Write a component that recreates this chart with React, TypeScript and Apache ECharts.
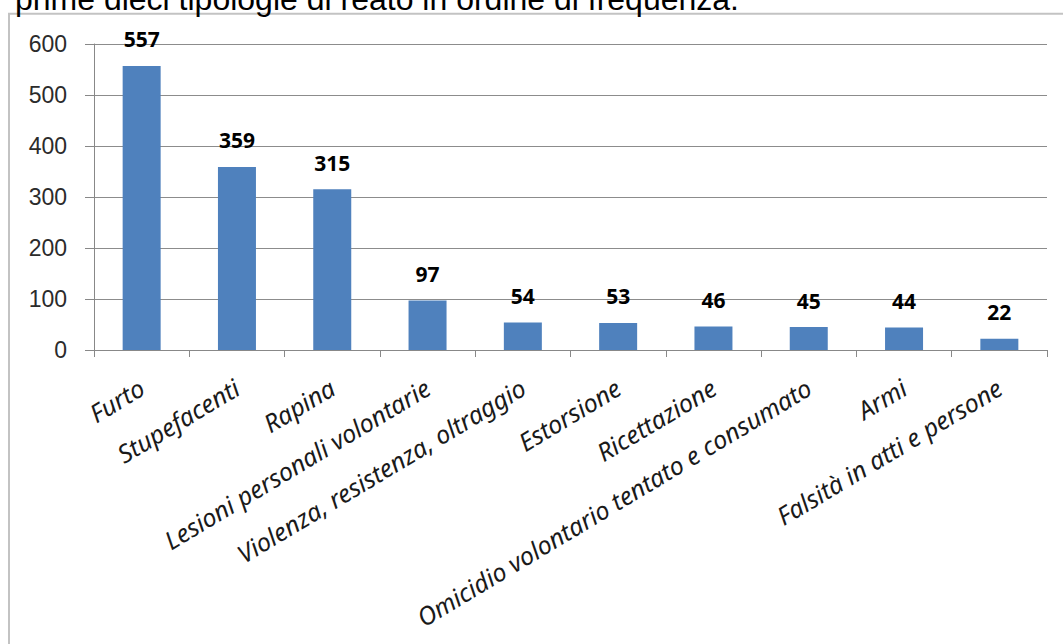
import React, { useEffect, useRef } from "react";
import * as echarts from "echarts";

const categories = [
  "Furto",
  "Stupefacenti",
  "Rapina",
  "Lesioni personali volontarie",
  "Violenza, resistenza, oltraggio",
  "Estorsione",
  "Ricettazione",
  "Omicidio volontario tentato e consumato",
  "Armi",
  "Falsità in atti e persone",
];
const values = [557, 359, 315, 97, 54, 53, 46, 45, 44, 22];
const yTicks = [0, 100, 200, 300, 400, 500, 600];
const titleText = "prime dieci tipologie di reato in ordine di frequenza.";

export default function App() {
  const ref = useRef<HTMLDivElement>(null);
  useEffect(() => {
    if (!ref.current) return;
    const chart = echarts.init(ref.current, undefined, { renderer: "svg" });
    chart.setOption({
      animation: false,
      backgroundColor: "#ffffff",
      graphic: [
        {
          type: "rect",
          shape: { x: 9, y: 13.7, width: 1070, height: 700 },
          style: { fill: "none", stroke: "#c3c3c3", lineWidth: 2 },
          z: 0,
        },
        {
          type: "text",
          x: 15,
          y: -1,
          style: {
            text: titleText,
            fontFamily: "Liberation Sans, Arial, sans-serif",
            fontSize: 32,
            fill: "#000000",
            verticalAlign: "middle",
            align: "left",
          },
        },
      ],
      grid: { left: 94, right: 16, top: 44, bottom: 294, containLabel: false },
      xAxis: {
        type: "category",
        data: categories,
        axisLine: { show: true, lineStyle: { color: "#888888", width: 1 } },
        axisTick: { show: true, length: 7, lineStyle: { color: "#888888" } },
        axisLabel: {
          rotate: 31,
          interval: 0,
          margin: 35,
          fontFamily: "Noto Sans, sans-serif",
          fontStyle: "italic",
          fontSize: 25,
          color: "#1a1a1a",
        },
        splitLine: { show: false },
      },
      yAxis: {
        type: "value",
        min: yTicks[0],
        max: yTicks[yTicks.length - 1],
        interval: 100,
        axisLine: { show: true, lineStyle: { color: "#888888", width: 1 } },
        axisTick: { show: true, length: 9, lineStyle: { color: "#888888" } },
        axisLabel: {
          margin: 27,
          fontFamily: "Liberation Sans, Arial, sans-serif",
          fontSize: 23,
          color: "#2b2b2b",
        },
        splitLine: { show: true, lineStyle: { color: "#8c8c8c", width: 1 } },
      },
      series: [
        {
          type: "bar",
          data: values,
          barWidth: 38,
          itemStyle: { color: "#4F81BD" },
          label: {
            show: true,
            position: "top",
            distance: 16,
            fontFamily: "Open Sans, sans-serif",
            fontWeight: "bold",
            fontSize: 21,
            color: "#000000",
          },
        },
      ],
    });
    return () => chart.dispose();
  }, []);
  return (
    <div
      ref={ref}
      style={{ position: "fixed", left: 0, top: 0, width: 1063, height: 644 }}
    />
  );
}
